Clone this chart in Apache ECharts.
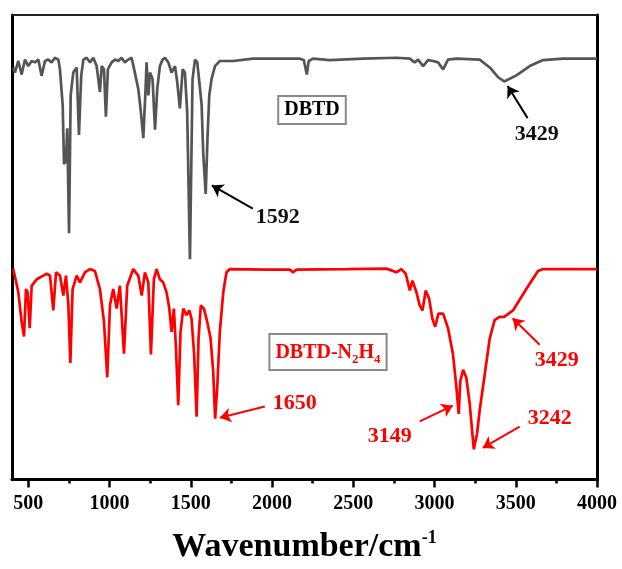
<!DOCTYPE html>
<html>
<head>
<meta charset="utf-8">
<script src="https://cdn.jsdelivr.net/npm/echarts@6/dist/echarts.min.js"></script>
<style>
  html, body { margin: 0; padding: 0; background: #fff; }
  #chart { width: 622px; height: 569px; }
</style>
</head>
<body>
<div id="chart"></div>
<script>
// FT-IR spectra, wavenumber (cm-1) vs. transmittance (stacked, arbitrary offset)
const dbtdSpectrum = [
  [408, 88.7], [418, 87.6], [439, 90.1], [459, 87.2], [480, 90.4], [500, 89.0],
  [521, 90.1], [541, 89.8], [562, 90.4], [582, 86.9], [603, 90.1], [623, 90.4],
  [644, 89.8], [664, 90.8], [685, 90.4], [695, 88.3], [712, 80.6], [720, 67.9],
  [732, 68.6], [740, 75.6], [751, 53.0], [761, 82.7], [777, 87.6], [798, 88.7],
  [812, 74.2], [826, 86.9], [839, 90.4], [859, 90.8], [880, 89.8], [900, 90.8],
  [921, 89.0], [941, 83.4], [952, 89.0], [966, 88.3], [978, 78.1], [990, 88.3],
  [1013, 89.8], [1034, 90.4], [1054, 90.1], [1074, 90.8], [1095, 89.8], [1115, 90.4],
  [1136, 90.8], [1156, 87.6], [1177, 84.1], [1191, 79.9], [1208, 73.5], [1222, 84.1],
  [1228, 89.8], [1239, 82.7], [1249, 87.6], [1265, 86.2], [1280, 75.3], [1294, 84.1],
  [1310, 89.0], [1327, 90.4], [1341, 90.8], [1362, 89.8], [1382, 87.6], [1403, 89.0],
  [1417, 85.5], [1433, 79.9], [1450, 88.3], [1464, 87.6], [1478, 79.2], [1495, 47.4],
  [1511, 86.2], [1526, 90.4], [1540, 89.8], [1556, 84.5], [1567, 80.6], [1577, 70.0],
  [1592, 61.5], [1603, 73.5], [1614, 82.7], [1628, 86.2], [1649, 89.0], [1679, 90.1],
  [1761, 90.1], [1884, 90.6], [1966, 90.6], [2171, 90.6], [2196, 90.3], [2214, 87.2],
  [2226, 90.1], [2253, 90.6], [2356, 90.3], [2561, 90.6], [2766, 90.8], [2848, 90.6],
  [2878, 89.8], [2899, 90.4], [2930, 89.0], [2960, 90.3], [2991, 90.1], [3022, 89.8],
  [3053, 88.3], [3083, 90.4], [3135, 90.6], [3278, 90.4], [3340, 88.7], [3391, 86.6],
  [3429, 85.7], [3504, 87.0], [3586, 89.0], [3668, 90.3], [3791, 90.6], [3975, 90.6],
  [4000, 90.6]
];

const dbtdN2H4Spectrum = [
  [408, 45.3], [439, 40.3], [459, 34.0], [474, 30.8], [486, 41.0], [496, 40.3],
  [509, 32.6], [521, 41.7], [552, 43.1], [593, 43.9], [613, 44.3], [634, 43.9],
  [654, 36.4], [671, 44.6], [695, 43.9], [716, 39.6], [732, 43.9], [747, 37.5],
  [759, 25.1], [773, 41.0], [798, 43.9], [818, 42.4], [849, 44.6], [880, 45.3],
  [910, 44.9], [941, 41.0], [966, 34.0], [986, 22.0], [1003, 37.5], [1023, 41.0],
  [1044, 36.8], [1064, 41.7], [1089, 27.1], [1109, 41.7], [1146, 45.3], [1177, 43.9],
  [1198, 39.6], [1218, 44.6], [1239, 42.4], [1255, 26.9], [1273, 43.1], [1290, 45.3],
  [1310, 43.1], [1331, 42.4], [1351, 40.3], [1368, 36.8], [1382, 31.8], [1396, 36.8],
  [1409, 28.3], [1423, 16.0], [1437, 31.8], [1454, 36.8], [1474, 35.4], [1491, 36.4],
  [1505, 34.6], [1521, 26.9], [1536, 13.5], [1548, 30.4], [1562, 37.5], [1581, 36.8],
  [1601, 34.0], [1622, 30.4], [1638, 23.3], [1650, 13.1], [1663, 19.8], [1679, 31.8],
  [1700, 40.3], [1720, 44.6], [1741, 45.3], [1966, 45.2], [2110, 45.2], [2128, 44.6],
  [2151, 45.2], [2458, 45.3], [2704, 45.4], [2766, 44.6], [2796, 45.3], [2823, 44.3],
  [2848, 40.7], [2864, 42.8], [2889, 40.3], [2909, 37.5], [2926, 36.4], [2946, 40.7],
  [2967, 38.9], [2987, 34.6], [3004, 32.9], [3024, 35.7], [3053, 35.7], [3083, 32.6],
  [3114, 26.9], [3135, 19.8], [3149, 14.1], [3159, 21.2], [3176, 23.6], [3196, 21.9],
  [3217, 16.2], [3233, 9.9], [3242, 6.5], [3262, 9.9], [3278, 14.9], [3309, 22.6],
  [3340, 30.4], [3370, 34.3], [3401, 35.0], [3429, 35.0], [3483, 36.4], [3565, 41.0],
  [3637, 44.9], [3668, 45.3], [4000, 45.3]
];

// Peak annotations: [label, label position, arrow tail, arrow head]
const dbtdPeaks = [
  ['1592', [2036, 56.4], [1882, 58.3], [1630, 63.3]],
  ['3429', [3629, 74.4], [3573, 77.8], [3450, 84.7]]
];
const dbtdN2H4Peaks = [
  ['1650', [2140, 16.3], [1956, 15.7], [1679, 13.3]],
  ['3149', [2725, 9.3], [2909, 12.5], [3112, 15.9]],
  ['3242', [3709, 13.1], [3524, 11.4], [3297, 6.8]],
  ['3429', [3752, 25.6], [3647, 29.0], [3481, 34.7]]
];

const majorTicks = [500, 1000, 1500, 2000, 2500, 3000, 3500, 4000];
const minorTicks = [750, 1250, 1750, 2250, 2750, 3250, 3750];

const SERIF = '"Liberation Serif", "Times New Roman", serif';
const GRAY = '#555555';
const RED = '#ff0000';

function annotations(peaks, textColor, arrowColor) {
  return {
    markLine: {
      silent: true,
      animation: false,
      symbol: ['none', 'arrow'],
      symbolSize: 11,
      label: { show: false },
      lineStyle: { color: arrowColor, width: 2, type: 'solid' },
      itemStyle: { color: arrowColor },
      emphasis: { disabled: true },
      data: peaks.map(p => [{ coord: p[2] }, { coord: p[3] }])
    },
    markPoint: {
      silent: true,
      animation: false,
      symbol: 'circle',
      symbolSize: 0,
      label: {
        show: true,
        position: 'inside',
        formatter: '{b}',
        fontFamily: SERIF,
        fontWeight: 'bold',
        fontSize: 22,
        color: textColor
      },
      data: peaks.map(p => ({ name: p[0], coord: p[1] }))
    }
  };
}

const chart = echarts.init(document.getElementById('chart'), null, { renderer: 'canvas' });

chart.setOption({
  animation: false,
  backgroundColor: '#ffffff',
  grid: { left: 12, right: 25, top: 15, bottom: 82, containLabel: false },
  xAxis: [
    {
      type: 'value', position: 'bottom', min: 400, max: 4000,
      axisLine: { show: true, lineStyle: { color: '#000', width: 3 } },
      axisTick: { show: true, customValues: majorTicks, length: 8, inside: false,
                  lineStyle: { color: '#000', width: 2.5 } },
      axisLabel: { show: true, customValues: majorTicks, margin: 14,
                   formatter: v => String(v),
                   fontFamily: SERIF, fontWeight: 'bold', fontSize: 20, color: '#000' },
      splitLine: { show: false },
      name: '{t|Wavenumber/cm}{s|-1}',
      nameLocation: 'middle',
      nameGap: 50,
      nameTextStyle: {
        rich: {
          t: { fontFamily: SERIF, fontWeight: 'bold', fontSize: 34, color: '#000', lineHeight: 35 },
          s: { fontFamily: SERIF, fontWeight: 'bold', fontSize: 18, color: '#000', verticalAlign: 'top', lineHeight: 35 }
        }
      }
    },
    {
      type: 'value', position: 'bottom', offset: 0, min: 400, max: 4000,
      axisLine: { show: false },
      axisTick: { show: true, customValues: minorTicks, length: 4,
                  lineStyle: { color: '#000', width: 2.5 } },
      axisLabel: { show: false, customValues: minorTicks },
      splitLine: { show: false }
    },
    {
      type: 'value', position: 'top', min: 400, max: 4000,
      axisLine: { show: true, lineStyle: { color: '#222', width: 2 } },
      axisTick: { show: false }, axisLabel: { show: false }, splitLine: { show: false }
    }
  ],
  yAxis: [
    {
      type: 'value', position: 'left', min: 0, max: 100,
      axisLine: { show: true, lineStyle: { color: '#000', width: 3 } },
      axisTick: { show: false }, axisLabel: { show: false }, splitLine: { show: false }
    },
    {
      type: 'value', position: 'right', min: 0, max: 100,
      axisLine: { show: true, lineStyle: { color: '#000', width: 3 } },
      axisTick: { show: false }, axisLabel: { show: false }, splitLine: { show: false }
    }
  ],
  series: [
    Object.assign({
      name: 'DBTD',
      type: 'line',
      xAxisIndex: 0, yAxisIndex: 0,
      data: dbtdSpectrum,
      showSymbol: false,
      symbol: 'none',
      lineStyle: { color: GRAY, width: 2.7 },
      z: 3
    }, annotations(dbtdPeaks, '#111', '#000')),
    Object.assign({
      name: 'DBTD-N2H4',
      type: 'line',
      xAxisIndex: 0, yAxisIndex: 0,
      data: dbtdN2H4Spectrum,
      showSymbol: false,
      symbol: 'none',
      lineStyle: { color: RED, width: 2.7 },
      z: 3
    }, annotations(dbtdN2H4Peaks, RED, RED))
  ],
  graphic: [
    {
      type: 'text', x: 312, y: 110, z: 10,
      style: {
        text: 'DBTD',
        font: 'bold 20px ' + SERIF,
        fill: '#000',
        align: 'center', verticalAlign: 'middle',
        padding: [4, 5, 2, 5],
        borderColor: '#8a8a8a', borderWidth: 2,
        backgroundColor: '#fff'
      }
    },
    {
      type: 'text', x: 328, y: 352, z: 10,
      style: {
        text: '{m|DBTD-N}{b|2}{m|H}{b|4}',
        align: 'center', verticalAlign: 'middle',
        padding: [5, 5, 3, 5],
        borderColor: '#8a8a8a', borderWidth: 2,
        backgroundColor: '#fff',
        rich: {
          m: { font: 'bold 20px ' + SERIF, fill: RED, lineHeight: 26, verticalAlign: 'middle' },
          b: { font: 'bold 13px ' + SERIF, fill: RED, lineHeight: 26, verticalAlign: 'bottom' }
        }
      }
    }
  ]
});
</script>
</body>
</html>
